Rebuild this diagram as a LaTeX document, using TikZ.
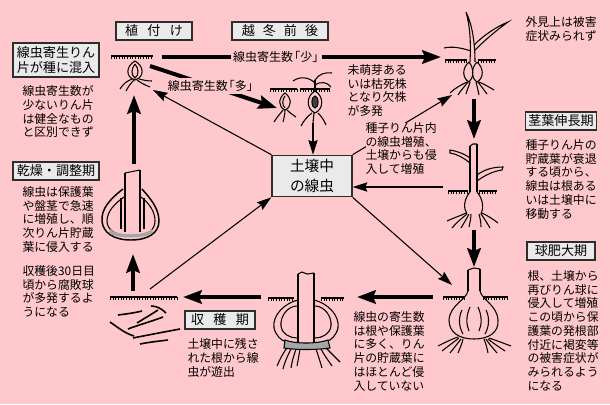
\documentclass[tikz,border=0pt]{standalone}
\usepackage{fontspec}
\setmainfont{Noto Sans CJK JP}
\usetikzlibrary{arrows.meta}
\definecolor{bgpink}{RGB}{255,200,204}
\definecolor{boxgray}{RGB}{234,234,234}

\tikzset{every picture/.style={line width=0.75pt}}
\tikzset{
  lbl/.style={draw={rgb, 255:red, 45; green, 45; blue, 45 }, line width=1pt, fill=boxgray, inner sep=2pt, align=center, font=\fontsize{9.8}{11.5}\selectfont},
  note/.style={anchor=north west, align=left, inner sep=0pt, font=\fontsize{8.9}{10.3}\selectfont},
  tag/.style={fill=bgpink, inner sep=2pt, font=\fontsize{9}{10}\selectfont},
  fat/.style={line width=3pt, -{Stealth[length=14pt, width=10pt, inset=2pt]}},
  slim/.style={line width=0.8pt, -{Stealth[length=11pt, width=7pt, inset=1.5pt]}},
  soil/.style={line width=1.1pt, postaction={draw, line width=2.2pt, dash pattern=on 0.6pt off 1.4pt, transform canvas={yshift=-1pt}}},
  plant/.style={line width=0.8pt},
}

\begin{document}
\begin{tikzpicture}[x=0.75pt,y=0.75pt,yscale=-1,xscale=1]
	\useasboundingbox (0,0) rectangle (610,404);
	\fill [bgpink] (0,0) rectangle (610,404);

	%Shape: Boxes
	\draw (154,31) node [lbl, minimum width=57pt, minimum height=13.5pt] (uetsuke) {植\hspace{7pt}付\hspace{7pt}け};
	\draw (280,31) node [lbl, minimum width=72pt, minimum height=13.5pt] (ettou) {越\hspace{6pt}冬\hspace{6pt}前\hspace{6pt}後};
	\draw (56,60) node [lbl, minimum width=64.5pt, minimum height=25.5pt] (konnyu) {線虫寄生りん\\片が種に混入};
	\draw (56,171) node [lbl, minimum width=64.5pt, minimum height=13.5pt] (kansou) {乾燥・調整期};
	\draw (561,121) node [lbl, minimum width=51pt, minimum height=13.5pt] (keiyou) {茎葉伸長期};
	\draw (561,251) node [lbl, minimum width=51pt, minimum height=13.5pt] (kyuhi) {球肥大期};
	\draw (220,320) node [lbl, minimum width=52.5pt, minimum height=13.5pt] (shukaku) {収\hspace{7pt}穫\hspace{7pt}期};
	\draw (312,176) node [lbl, minimum width=60pt, minimum height=31pt, font=\fontsize{11}{14.5}\selectfont] (dojo) {土壌中\\の線虫};

	%Coordinates
	\coordinate (ueR) at (162,57);
	\coordinate (haruL) at (441,57);
	\coordinate (ueKyu) at (150,66);
	\coordinate (fuyuKyu) at (277,108);
	\coordinate (fuyuNe) at (313,123);
	\coordinate (haruNe) at (452,95);
	\coordinate (haruB) at (474,99);
	\coordinate (kukiT) at (474,139);
	\coordinate (kukiL) at (443,187);
	\coordinate (kukiB) at (474,230);
	\coordinate (kyuT) at (474,267);
	\coordinate (kyuTL) at (452,285);
	\coordinate (kyuL) at (433,297);
	\coordinate (shuR) at (357,297);
	\coordinate (shuL) at (261,297);
	\coordinate (zanR) at (183,297);
	\coordinate (zanT) at (133,291);
	\coordinate (kanB) at (133,254);
	\coordinate (zanNe) at (150,289);
	\coordinate (kanT) at (134,164);
	\coordinate (ueB) at (134,95);
	\coordinate (ueNe) at (153,90);

	%Plant: planting
	\draw [soil] (111,56) -- (153,56) ;
	\draw [plant] (135,61) .. controls (126,66) and (125,77) .. (135,80) .. controls (145,77) and (144,66) .. (135,61) -- cycle ;
	\draw [plant] (135,64) .. controls (131,69) and (131,75) .. (135,78) .. controls (139,75) and (139,69) .. (135,64) ;
	\draw [plant] (132,79) .. controls (127,81) and (123,84) .. (120,89) ;
	\draw [plant] (134,80) .. controls (131,83) and (128,87) .. (126,91) ;
	\draw [plant] (137,80) .. controls (141,83) and (145,85) .. (150,87) ;
	\draw [plant] (139,79) .. controls (143,80) and (147,81) .. (152,81) ;

	%Plant: before and after winter
	\draw [soil] (270,89) -- (297,89) ;
	\draw [soil] (300,89) -- (330,89) ;
	\draw [plant] (285,93) .. controls (278,98) and (278,107) .. (285,110) .. controls (292,107) and (292,98) .. (285,93) -- cycle ;
	\draw [plant] (285,96) .. controls (282,100) and (282,105) .. (285,108) ;
	\draw [plant] (283,110) .. controls (280,114) and (277,117) .. (274,122) ;
	\draw [plant] (285,110) .. controls (285,114) and (284,118) .. (283,122) ;
	\draw [plant] (287,110) .. controls (290,113) and (293,115) .. (296,117) ;
	\draw [plant] (315,91) .. controls (306,96) and (306,109) .. (315,113) .. controls (324,109) and (324,96) .. (315,91) -- cycle ;
	\draw [fill=black!75] (315,102) ellipse [x radius=2.3pt, y radius=4.5pt] ;
	\draw [plant] (315,91) -- (315,80) ;
	\draw [plant] (315,83) .. controls (309,77) and (300,76) .. (293,81) ;
	\draw [plant] (315,80) .. controls (319,74) and (325,72) .. (332,73) ;
	\draw [plant] (315,85) .. controls (321,81) and (327,82) .. (331,87) ;
	\draw [plant] (312,113) .. controls (308,116) and (304,120) .. (301,126) ;
	\draw [plant] (318,113) .. controls (321,116) and (324,120) .. (326,125) ;
	\draw [plant] (314,113) -- (313,123) ;

	%Plant: spring
	\draw [soil] (445,60) -- (467,60) ;
	\draw [soil] (478,60) -- (496,60) ;
	\draw [plant] (470,62) .. controls (471,42) and (470,26) .. (466,12) .. controls (472,24) and (475,42) .. (475,62) ;
	\draw [plant] (474,45) .. controls (484,35) and (496,27) .. (508,22) .. controls (497,30) and (486,39) .. (475,50) ;
	\draw [plant] (471,51) .. controls (462,48) and (452,46) .. (444,48) ;
	\draw [plant] (469,62) .. controls (462,68) and (462,78) .. (469,82) .. controls (474,78) and (474,68) .. (469,62) ;
	\draw [plant] (477,62) .. controls (471,68) and (471,78) .. (477,82) .. controls (484,78) and (484,68) .. (477,62) ;
	\draw [plant] (467,82) .. controls (461,85) and (455,88) .. (450,93) ;
	\draw [plant] (468,82) .. controls (465,86) and (461,90) .. (458,95) ;
	\draw [plant] (470,82) .. controls (469,86) and (467,90) .. (466,94) ;
	\draw [plant] (476,82) .. controls (477,86) and (478,90) .. (479,95) ;
	\draw [plant] (478,82) .. controls (481,86) and (484,90) .. (487,94) ;
	\draw [plant] (479,82) .. controls (484,84) and (489,87) .. (494,90) ;

	%Plant: stem and leaf growth
	\draw [plant] (470,146) -- (470,192) ;
	\draw [plant] (477,144) -- (477,192) ;
	\draw [plant] (470,146) -- (473,144) -- (477,144) ;
	\draw [plant] (470,158) .. controls (463,153) and (456,151) .. (450,150) -- (450,153) .. controls (457,154) and (464,158) .. (470,163) ;
	\draw [plant] (477,175) .. controls (485,169) and (494,167) .. (503,167) -- (502,170) .. controls (494,171) and (485,175) .. (477,181) ;
	\draw [soil] (448,191) -- (468,191) ;
	\draw [soil] (479,191) -- (497,191) ;
	\draw [plant] (470,192) .. controls (464,199) and (463,208) .. (467,214) ;
	\draw [plant] (477,192) .. controls (483,199) and (484,208) .. (481,214) ;
	\draw [plant] (466,213) .. controls (460,216) and (453,218) .. (447,221) ;
	\draw [plant] (467,214) .. controls (462,218) and (456,223) .. (452,228) ;
	\draw [plant] (469,214) .. controls (467,218) and (464,223) .. (461,228) ;
	\draw [plant] (471,214) .. controls (471,218) and (470,222) .. (469,227) ;
	\draw [plant] (479,214) .. controls (480,218) and (481,222) .. (481,227) ;
	\draw [plant] (481,214) .. controls (484,218) and (487,223) .. (490,228) ;
	\draw [plant] (482,213) .. controls (488,216) and (493,219) .. (498,223) ;

	%Plant: bulb enlargement
	\draw [plant] (468,270) -- (468,291) ;
	\draw [plant] (480,269) -- (480,291) ;
	\draw [plant] (468,270) -- (474,268) -- (480,269) ;
	\draw [soil] (443,297) -- (465,297) ;
	\draw [soil] (483,297) -- (508,297) ;
	\draw [plant] (468,291) .. controls (466,300) and (450,305) .. (449,320) .. controls (449,333) and (460,339) .. (474,339) .. controls (488,339) and (499,333) .. (498,320) .. controls (497,305) and (482,300) .. (480,291) ;
	\draw [plant] (462,310) .. controls (458,318) and (459,327) .. (463,334) ;
	\draw [plant] (470,307) .. controls (466,316) and (466,324) .. (469,331) ;
	\draw [plant] (478,307) .. controls (482,316) and (482,324) .. (479,331) ;
	\draw [plant] (486,310) .. controls (490,318) and (489,327) .. (485,334) ;
	\draw [plant] (458,337) .. controls (452,339) and (446,342) .. (438,346) ;
	\draw [plant] (459,338) .. controls (454,342) and (448,346) .. (442,351) ;
	\draw [plant] (461,339) .. controls (458,343) and (454,348) .. (450,353) ;
	\draw [plant] (463,339) .. controls (462,344) and (460,348) .. (458,353) ;
	\draw [plant] (489,338) .. controls (495,340) and (503,343) .. (511,346) ;
	\draw [plant] (488,339) .. controls (493,343) and (499,347) .. (505,351) ;
	\draw [plant] (486,339) .. controls (489,344) and (493,348) .. (497,353) ;
	\draw [plant] (484,339) .. controls (486,344) and (487,348) .. (488,353) ;

	%Plant: harvest
	\draw [plant] (298,274) -- (298,343) ;
	\draw [plant] (314,273) -- (314,343) ;
	\draw [plant] (298,274) -- (302,272) -- (307,274) -- (314,273) ;
	\draw [soil] (268,298) -- (294,298) ;
	\draw [soil] (321,298) -- (344,298) ;
	\draw [plant] (298,300) .. controls (285,303) and (272,315) .. (274,328) .. controls (276,336) and (281,340) .. (286,342) ;
	\draw [plant] (297,306) .. controls (288,306) and (280,316) .. (281,326) .. controls (282,334) and (290,338) .. (297,338) ;
	\draw [plant] (314,300) .. controls (327,303) and (340,315) .. (338,328) .. controls (336,336) and (331,340) .. (326,342) ;
	\draw [plant] (315,306) .. controls (324,306) and (332,316) .. (331,326) .. controls (330,334) and (322,338) .. (315,338) ;
	\draw [plant, fill=black!35] (285,340) .. controls (295,344) and (317,344) .. (328,340) -- (330,348) .. controls (317,350) and (295,350) .. (284,348) -- cycle ;
	\draw [plant] (287,348) .. controls (283,353) and (280,359) .. (277,366) ;
	\draw [plant] (291,349) .. controls (288,355) and (285,361) .. (283,369) ;
	\draw [plant] (296,349) .. controls (294,355) and (292,361) .. (291,368) ;
	\draw [plant] (300,349) .. controls (299,355) and (298,361) .. (297,366) ;
	\draw [plant] (316,349) .. controls (318,355) and (320,361) .. (322,368) ;
	\draw [plant] (321,349) .. controls (324,355) and (328,360) .. (332,366) ;
	\draw [plant] (326,348) .. controls (330,352) and (335,357) .. (340,362) ;

	%Plant: roots left in soil
	\draw [soil] (110,297) -- (177,297) ;
	\draw [plant, line width=1.2pt] (110,322) .. controls (116,326) and (124,333) .. (134,336) ;
	\draw [plant, line width=1.2pt] (118,315) .. controls (126,314) and (134,313) .. (142,311) ;
	\draw [plant, line width=1.2pt] (128,329) .. controls (138,325) and (150,322) .. (163,317) ;
	\draw [plant, line width=1.2pt] (151,306) .. controls (156,306) and (161,308) .. (166,313) ;
	\draw [plant, line width=1.2pt] (133,338) .. controls (148,335) and (164,332) .. (180,329) ;
	\draw [plant, line width=1.2pt] (137,323) .. controls (145,318) and (152,314) .. (158,310) ;
	\draw [plant, line width=1.2pt] (140,344) .. controls (150,342) and (160,341) .. (168,340) ;

	%Plant: drying
	\draw [plant] (125,173) -- (125,232) ;
	\draw [plant] (140,170) -- (140,232) ;
	\draw [plant] (125,173) -- (140,170) ;
	\draw [plant, line width=1.1pt] (123,189) .. controls (110,199) and (101,209) .. (102,221) .. controls (103,233) and (114,240) .. (131,240) .. controls (148,240) and (159,233) .. (159,221) .. controls (159,209) and (151,199) .. (142,189) ;
	\draw [plant] (124,197) .. controls (114,204) and (107,212) .. (107,221) .. controls (107,230) and (116,235) .. (125,235) ;
	\draw [plant] (141,197) .. controls (150,204) and (155,212) .. (155,221) .. controls (155,230) and (147,235) .. (140,235) ;
	\draw [plant] (121,198) -- (121,229) ;
	\draw [plant] (144,198) -- (144,229) ;
	\fill [black!35] (110,229) .. controls (116,236) and (146,236) .. (152,229) -- (153,233) .. controls (146,239) and (116,239) .. (109,233) -- cycle ;

	%Straight Lines
	\draw [fat] (ueR) -- (haruL) node [tag, pos=0.41] (sukunai) {線虫寄生数\kern-0.4em「少」\kern-0.4em};
	\draw [fat] (ueKyu) -- (fuyuKyu) node [tag, pos=0.48] (ooi) {線虫寄生数\kern-0.4em「多」\kern-0.4em};
	\draw [slim] (fuyuNe) -- (fuyuNe |- dojo.north) ;
	\draw [slim] (dojo.north east) -- (haruNe) ;
	\draw [fat] (haruB) -- (kukiT) ;
	\draw [slim] (kukiL) -- (kukiL -| dojo.east) ;
	\draw [fat] (kukiB) -- (kyuT) ;
	\draw [slim] (dojo.south east) -- (kyuTL) ;
	\draw [fat] (kyuL) -- (shuR) ;
	\draw [fat] (shuL) -- (zanR) ;
	\draw [fat] (zanT) -- (kanB) ;
	\draw [slim] (zanNe) -- (dojo.south west) ;
	\draw [fat] (kanT) -- (ueB) ;
	\draw [slim] (dojo.north west) -- (ueNe) ;

	% Text Node
	\draw (22,85) node [note] (nKonnyu) {線虫寄生数が\\少ないりん片\\は健全なもの\\と区別できず};
	% Text Node
	\draw (22,186) node [note] (nKansou) {線虫は保護葉\\や盤茎で急速\\に増殖し、順\\次りん片貯蔵\\葉に侵入する};
	% Text Node
	\draw (22,265) node [note] (nFuhai) {収穫後30日目\\頃から腐敗球\\が多発するよ\\うになる};
	% Text Node
	\draw (525,16) node [note] (nGaiken) {外見上は被害\\症状みられず};
	% Text Node
	\draw (525,139) node [note] (nKeiyou) {種子りん片の\\貯蔵葉が衰退\\する頃から、\\線虫は根ある\\いは土壌中に\\移動する};
	% Text Node
	\draw (527,270) node [note] (nKyuhi) {根、土壌から\\再びりん球に\\侵入して増殖\\この頃から保\\護葉の発根部\\付近に褐変等\\の被害症状が\\みられるよう\\になる};
	% Text Node
	\draw (353,311) node [note] (nShukaku) {線虫の寄生数\\は根や保護葉\\に多く、りん\\片の貯蔵葉に\\はほとんど侵\\入していない};
	% Text Node
	\draw (187,338) node [note] (nYushutsu) {土壌中に残さ\\れた根から線\\虫が遊出};
	% Text Node
	\draw (347,64) node [note] (nKetsu) {未萌芽ある\\いは枯死株\\となり欠株\\が多発};
	% Text Node
	\draw (365,122) node [note, fill=bgpink] (nZoshoku) {種子りん片内\\の線虫増殖、\\土壌からも侵\\入して増殖};

\end{tikzpicture}
\end{document}
